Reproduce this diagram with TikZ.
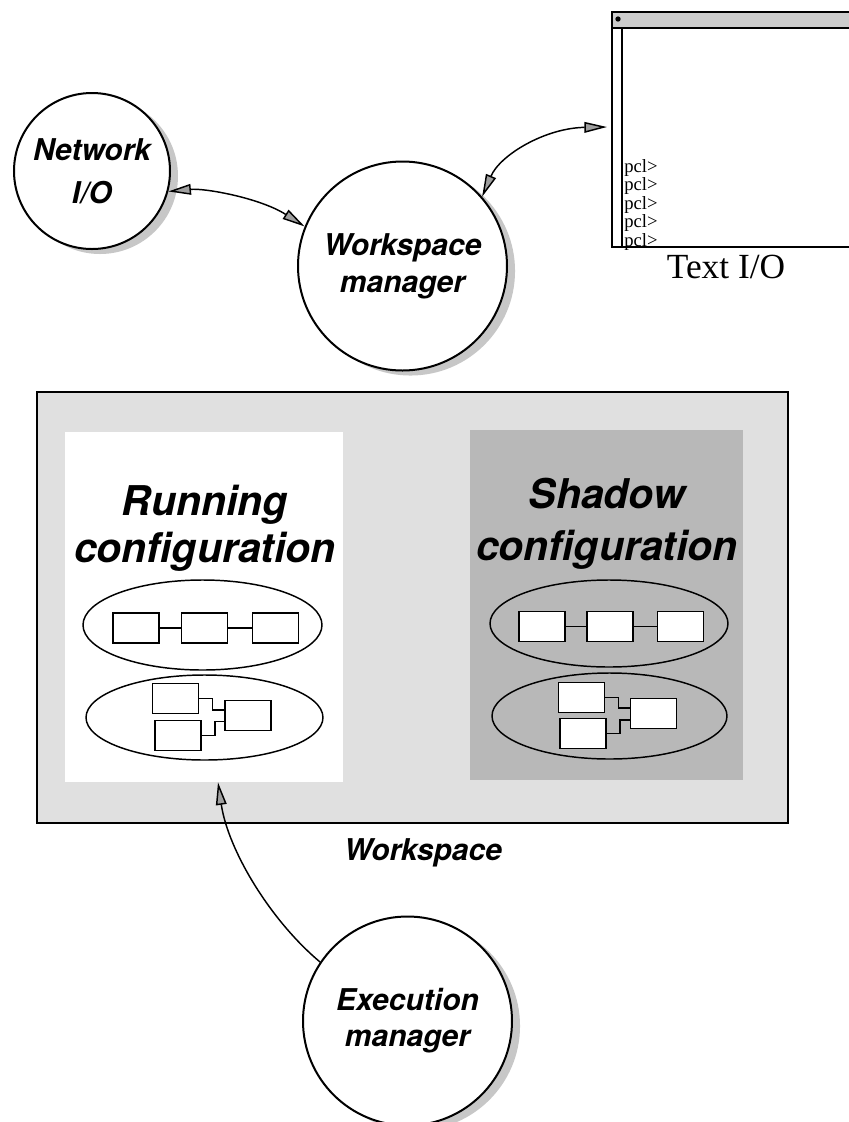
\documentclass[tikz,border=0pt]{standalone}
\usepackage{fontspec}
\setmainfont{Liberation Serif}
\newfontfamily\hvfont{TeX Gyre Heros}
\newcommand\hvbi{\hvfont\bfseries\itshape}
\usetikzlibrary{shapes.geometric,arrows.meta}
\definecolor{wsbg}{gray}{0.88}
\definecolor{shbg}{gray}{0.72}
\definecolor{circsh}{gray}{0.78}
\definecolor{titlebg}{gray}{0.80}
\begin{document}
\begin{tikzpicture}[x=0.75pt,y=-0.75pt,
  proc/.style={circle, draw, line width=1.5pt, fill=white, inner sep=0pt, minimum size=#1, align=center},
  ell/.style={ellipse, draw, line width=1.1pt, inner sep=0pt},
  bx/.style={draw, fill=white, line width=1.3pt, minimum width=34.5pt, minimum height=22.5pt, inner sep=0pt},
  link/.style={line width=1.1pt},
  tipx/.tip={Triangle[length=17pt,width=8pt,fill=gray!75]},
  flow/.style={line width=1.1pt},
]
\useasboundingbox (0,0) rectangle (849,1122);
\fill[white] (0,0) rectangle (849,1122);

% circle shadows
\fill[circsh] (100,176) circle[radius=58.5pt];
\fill[circsh] (410.5,271) circle[radius=78.4pt];
\fill[circsh] (415.5,1026) circle[radius=78.4pt];

% process circles
\node[proc=117pt, font={\hvbi\fontsize{22.5pt}{32pt}\selectfont}] (net) at (92,171) {Network\\I/O};
\node[proc=156.75pt, font={\hvbi\fontsize{22.5pt}{27.75pt}\selectfont}] (wsm) at (402.5,266) {Workspace\\manager};
\node[proc=156.75pt, font={\hvbi\fontsize{22.5pt}{27pt}\selectfont}] (exe) at (407.5,1021) {Execution\\manager};

% text window
\fill[titlebg] (612,12) rectangle (849,28);
\draw[line width=1.5pt] (849,12) -- (612,12) -- (612,247) -- (849,247);
\draw[line width=1.1pt] (612,28) -- (849,28);
\draw[line width=1.1pt] (622,28) -- (622,247);
\fill (618,19) circle[radius=2pt];
\coordinate (win) at (607,127);
\node[anchor=north west, inner sep=0pt, align=left, font={\fontsize{14pt}{13.9pt}\selectfont}] (pcl) at (624,159) {pcl>\\pcl>\\pcl>\\pcl>\\pcl>};
\node[anchor=base, inner sep=0pt, font={\fontsize{26.5pt}{30pt}\selectfont}] (tiolabel) at (726,278) {Text I/O};

% workspace
\node[draw, line width=1.5pt, fill=wsbg, minimum width=563.25pt, minimum height=323.25pt, inner sep=0pt] (ws) at (412.5,607.5) {};
\node[fill=white, minimum width=208.5pt, minimum height=262.5pt, inner sep=0pt] (run) at (204,607) {};
\node[fill=shbg, minimum width=204.75pt, minimum height=262.5pt, inner sep=0pt] (sha) at (606.5,605) {};
\node[anchor=base, inner sep=0pt, font={\hvbi\fontsize{22.5pt}{27pt}\selectfont}] (wslabel) at (423,860) {Workspace};

\node[align=center, inner sep=0pt, font={\hvbi\fontsize{30.75pt}{35.25pt}\selectfont}] (runt) at (205,528) {Running\\configuration};
\node[align=center, inner sep=0pt, font={\hvbi\fontsize{30.75pt}{39pt}\selectfont}] (shat) at (607,523.6) {Shadow\\configuration};

% running configuration
\node[ell, minimum width=179.25pt, minimum height=67.5pt] (re1) at (202.5,625) {};
\node[ell, minimum width=177.75pt, minimum height=63.75pt] (re2) at (204.5,717.5) {};
\node[bx] (r1) at (136,628) {};
\node[bx] (r2) at (204.5,628) {};
\node[bx] (r3) at (275.5,628) {};
\draw[link] (r1.east) -- (r2.west);
\draw[link] (r2.east) -- (r3.west);
\node[bx] (rA) at (175.5,698.5) {};
\node[bx] (rB) at (178,735.5) {};
\node[bx] (rC) at (248,715.5) {};
\draw[link] (rA.east) -- ++(13,0) |- ([yshift=4pt]rC.west);
\draw[link] (rB.east) -- ++(13,0) |- ([yshift=-4.5pt]rC.west);

% shadow configuration
\node[ell, minimum width=178.5pt, minimum height=65.25pt] (se1) at (609,623.5) {};
\node[ell, minimum width=176.25pt, minimum height=64.5pt] (se2) at (609.5,716) {};
\node[bx] (s1) at (542,626.5) {};
\node[bx] (s2) at (610,626.5) {};
\node[bx] (s3) at (680.5,626.5) {};
\draw[link] (s1.east) -- (s2.west);
\draw[link] (s2.east) -- (s3.west);
\node[bx] (sA) at (581.5,697.5) {};
\node[bx] (sB) at (583,733.5) {};
\node[bx] (sC) at (653.5,713.5) {};
\draw[link] (sA.east) -- ++(13,0) |- ([yshift=4pt]sC.west);
\draw[link] (sB.east) -- ++(13,0) |- ([yshift=-4.8pt]sC.west);

% connectors
\draw[flow, tipx-tipx] (net.-15) .. controls (205,188) and (260,198) .. (wsm.158);
\draw[flow, tipx-tipx] (wsm.41) .. controls (500,155) and (545,128) .. (win);
\draw[flow, -tipx] (exe.146) .. controls (270,920) and (228,850) .. ([xshift=10.5pt]run.south);
\end{tikzpicture}
\end{document}
